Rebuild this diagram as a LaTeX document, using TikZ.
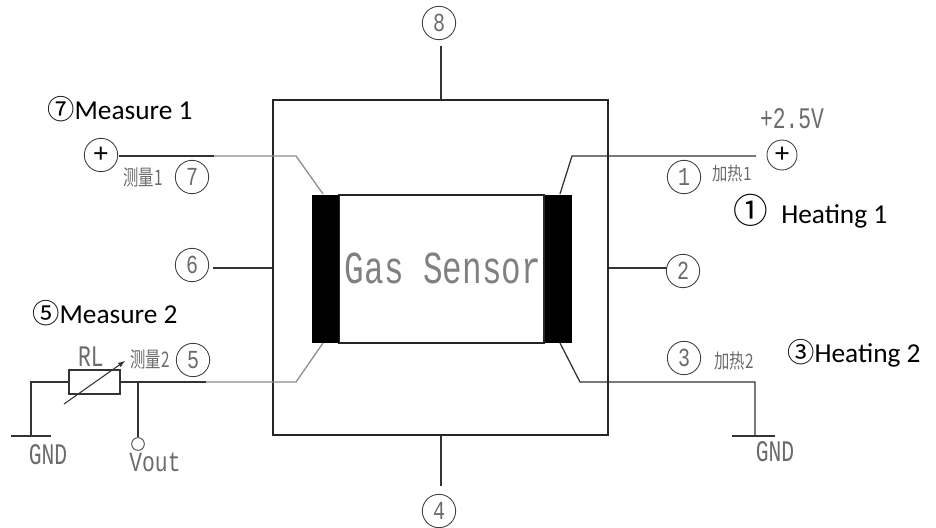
\documentclass[tikz,border=0pt]{standalone}
\usepackage{graphicx}
\usepackage{fontspec}
\setmainfont{Carlito}
\newfontfamily\cjk{Noto Sans CJK SC}
\newfontfamily\cad{Liberation Mono}
\definecolor{wiregray}{gray}{0.55}
\definecolor{cadgray}{gray}{0.42}
\newcommand{\tallr}[2][1.4]{\scalebox{1}[#1]{#2}}
\tikzset{
  x=0.75pt,y=-0.75pt,
  wire/.style={line width=0.95pt,draw=black!80},
  faint/.style={line width=0.95pt,draw=wiregray},
  pin/.style={circle,draw=black!75,line width=0.65pt,minimum size=25pt,inner sep=0pt,text=cadgray,font=\cad\fontsize{15}{15}\selectfont},
  plus/.style={circle,draw=black!75,line width=0.65pt,minimum size=25pt,inner sep=0pt,font=\cad\fontsize{20}{20}\selectfont},
  note/.style={inner sep=0pt,anchor=base west,font=\fontsize{20.5}{24}\selectfont},
  cadtext/.style={inner sep=0pt,text=cadgray,font=\cad\fontsize{16}{16}\selectfont},
  cjktext/.style={inner sep=0pt,text=cadgray,font=\cjk\fontsize{11.5}{12}\selectfont},
  pad/.style={fill=black,draw=none,inner sep=0pt,minimum width=20.25pt,minimum height=111pt},
}
\begin{document}
\begin{tikzpicture}
\useasboundingbox (0,0) rectangle (936,528);
% housing and sensor body
\node[draw=black!85,line width=0.95pt,inner sep=0pt,minimum width=251.25pt,minimum height=251.25pt] (box) at (440.5,267.5) {};
\node[draw=black!85,line width=0.95pt,inner sep=0pt,minimum width=153.75pt,minimum height=111pt] (body) at (441.5,269) {};
\node[pad] (padl) at (325.5,269) {};
\node[pad] (padr) at (558,269) {};
\node[inner sep=0pt,text=black!50,font=\cad\fontsize{24.5}{24.5}\selectfont] (gas) at (443,268) {\tallr[1.4]{Gas Sensor}};
% side pins
\node[pin] (p8) at (439,23) {\tallr[1.3]{8}};
\node[pin] (p6) at (192,265) {\tallr[1.3]{6}};
\node[pin] (p2) at (683,271) {\tallr[1.3]{2}};
\node[pin] (p4) at (439,511) {\tallr[1.3]{4}};
\coordinate (c8) at (441,46);
\coordinate (c4) at (441,486);
\coordinate (c6) at (213,268);
\coordinate (c2) at (667,268);
\draw[wire] (c8) -- (c8 |- box.north);
\draw[wire] (c6) -- (c6 -| box.west);
\draw[wire] (c2) -- (c2 -| box.east);
\draw[wire] (c4) -- (c4 |- box.south);
% pin 7
\node[plus] (m1) at (101,155) {+};
\node[pin] (p7) at (192,177) {\tallr[1.3]{7}};
\node[cjktext] (t7) at (143,177) {\tallr{测量1}};
\coordinate (k7) at (296,156);
\coordinate (s7) at (214,156);
\coordinate (a7) at (323,194);
\coordinate (w7) at (119,156);
\draw[faint] (s7) -- (k7) -- (a7);
\draw[wire] (w7) -- (s7);
\node[note] (n7) at (47,119) {{\cjk ⑦}Measure 1};
% pin 5
\node[draw=black!80,line width=0.95pt,inner sep=0pt,minimum width=38.25pt,minimum height=18pt] (rl) at (94.5,382) {};
\node[cadtext] (trl) at (91,357) {\tallr{RL}};
\node[cjktext] (t5) at (150,359) {\tallr{测量2}};
\node[pin] (p5) at (193,360) {\tallr[1.3]{5}};
\coordinate (k5) at (296,382);
\coordinate (s5) at (206,382);
\coordinate (a5) at (323,343);
\coordinate (j) at (138,382);
\coordinate (g1) at (31,436);
\coordinate (g1l) at (11,436);
\coordinate (g1r) at (51,436);
\coordinate (ra) at (64,404);
\coordinate (rb) at (125,361);
\draw[faint] (s5) -- (k5) -- (a5);
\draw[wire] (rl.east) -- (s5);
\draw[wire] (rl.west) -| (g1);
\draw[wire] (g1l) -- (g1r);
\draw[line width=0.8pt,draw=black!80,-latex] (ra) -- (rb);
\node[circle,draw=black!75,line width=0.65pt,minimum size=9.5pt,inner sep=0pt] (vo) at (138,444) {};
\draw[wire] (j) -- (vo);
\node[cadtext] (tvo) at (155,462) {\tallr[1.3]{Vout}};
\node[cadtext] (tg1) at (48,455) {\tallr{GND}};
\node[note] (n5) at (32,323) {{\cjk ⑤}Measure 2};
% pin 1
\node[plus,minimum size=22.5pt] (h1) at (782,155) {+};
\node[cadtext] (tv) at (792,119) {\tallr{+2.5V}};
\node[pin] (p1) at (684,177) {\tallr[1.3]{1}};
\node[cjktext] (t1) at (732,174) {\tallr[1.2]{加热1}};
\coordinate (k1) at (572,156);
\coordinate (a1) at (560,194);
\coordinate (e1) at (756,156);
\draw[wire] (a1) -- (k1) -- (e1);
\node[note] (n1) at (733,223) {{\cjk\fontsize{26}{26}\selectfont ①}\hspace{10pt}Heating 1};
% pin 3
\node[pin] (p3) at (684,358) {\tallr[1.3]{3}};
\node[cjktext] (t3) at (734,361) {\tallr[1.3]{加热2}};
\coordinate (k3) at (580,382);
\coordinate (a3) at (560,343);
\coordinate (g3) at (755,436);
\coordinate (g3l) at (732,436);
\coordinate (g3r) at (775,436);
\draw[wire] (a3) -- (k3) -| (g3);
\draw[wire] (g3l) -- (g3r);
\node[cadtext] (tg3) at (775,452) {\tallr{GND}};
\node[note] (n3) at (787,362) {{\cjk ③}Heating 2};
\end{tikzpicture}
\end{document}
